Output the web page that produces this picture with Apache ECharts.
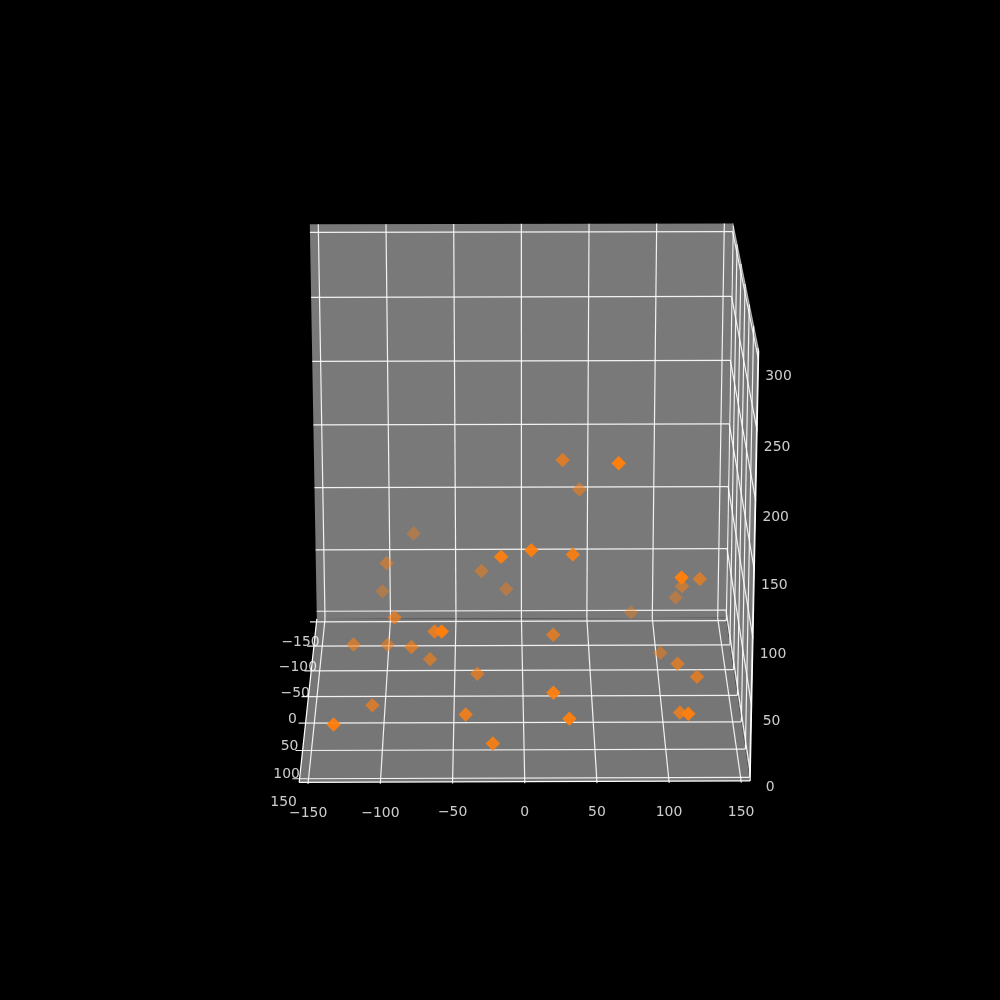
<!DOCTYPE html>
<html><head><meta charset="utf-8">
<style>html,body{margin:0;background:#000}#c{width:1000px;height:1000px}</style>
<script src="https://cdn.jsdelivr.net/npm/echarts@6/dist/echarts.min.js"></script></head>
<body><div id="c"></div><script>
const xValues=[28,65,41,-80,-99,-103,-30,-12,-16,5,34,108,126,115,112,80,-92,-63,-57,21,-122,-98,-80,-67,-33,100,110,123,-108,20,31,-41,-22,-132,110,113];
const yValues=[16,104,-29,-71,-30,-57,-27,-40,108,106,90,131,28,-5,-37,-51,35,73,142,57,24,7,42,28,49,-6,48,68,56,139,145,110,134,149,93,151];
const zValues=[181,209,143,94,86,54,81,62,142,146,137,135,95,77,56,39,69,73,100,64,44,37,49,34,31,25,38,36,10,53,36,25,13,34,19,42];
const xTicks=[-150,-100,-50,0,50,100,150];
const yTicks=[-150,-100,-50,0,50,100,150];
const zTicks=[0,50,100,150,200,250,300];

const L=156.25, ZL=-6.25, ZH=306.25;
const el=19.5*Math.PI/180, ce=Math.cos(el), se=Math.sin(el), ph=0.0077, cp=Math.cos(ph), sp=Math.sin(ph);
const d=19, s=4147, cx=523, cy=493.8;
// Perspective camera: data (x,y,z) -> position on the hidden 0..1000 axes, plus depth
function proj(x,y,z){const X=x/L,Y=y/L,Z=(z-150)/L;
 const X1=X*cp+Y*sp,Y1=-X*sp+Y*cp; const w=Y1*ce+Z*se,V=Z*ce-Y1*se,D=d-w;
 return [cx+s*X1/D,cy-s*V/D,w];}
const segs=[];
function seg(a,b,o){const A=proj(...a),B=proj(...b);segs.push([A[0],A[1],B[0],B[1],o||.9]);}
xTicks.forEach(t=>{seg([t,-L,ZL],[t,-L,ZH]);seg([t,-L,ZL],[t,L+3,ZL]);});
yTicks.forEach(t=>{seg([L,t,ZL],[L,t,ZH]);seg([L,t,ZL],[-L-5,t,ZL]);});
zTicks.forEach(t=>{seg([-L,-L,t],[L,-L,t]);seg([L,-L,t],[L,L,t]);});
seg([-L,L,ZL],[L,L,ZL],1);seg([-L,-L,ZL],[-L,L,ZL],1);seg([L,L,ZL],[L,L,ZH],1);seg([L,-L,ZH],[L,L,ZH],.6);
const panes=[
 [[-L,-L,ZL],[L,-L,ZL],[L,-L,ZH],[-L,-L,ZH]],
 [[-L,-L,ZL],[L,-L,ZL],[L,L,ZL],[-L,L,ZL]],
 [[L,-L,ZL],[L,L,ZL],[L,L,ZH],[L,-L,ZH]]].map(q=>q.map(p=>proj(...p).slice(0,2)));
const pts=xValues.map((x,i)=>proj(x,yValues[i],zValues[i]));
const ws=pts.map(p=>p[2]);const a=Math.min(...ws),b=Math.max(...ws);
const tickText=t=>String(t).replace('-','\u2212');
const labels=[];
xTicks.forEach(t=>{const p=proj(t,L,ZL);labels.push([p[0],p[1]+31,tickText(t)]);});
yTicks.forEach(t=>{const p=proj(-L,t,ZL);labels.push([p[0]-16,p[1]+21+(t+150)/100,tickText(t)]);});
zTicks.forEach(t=>{const p=proj(L,L,t);labels.push([p[0]+20,p[1]+15+t/150,tickText(t)]);});
const chart=echarts.init(document.getElementById('c'),null,{renderer:'canvas'});
chart.setOption({backgroundColor:'#000',animation:false,
 grid:{left:0,right:0,top:0,bottom:0},
 xAxis:{type:'value',min:0,max:1000,show:false},yAxis:{type:'value',min:0,max:1000,inverse:true,show:false},
 series:[
 {type:'custom',coordinateSystem:'cartesian2d',silent:true,z:1,data:[0,1,2],encode:{x:[],y:[]},renderItem:(p,api)=>{const q=panes[api.value(0)];const fills=['#797979','#767676','#797979'];return{type:'polygon',shape:{points:q.map(c=>api.coord(c))},style:{fill:fills[api.value(0)]}};}},
 {type:'custom',coordinateSystem:'cartesian2d',silent:true,z:2,data:segs,renderItem:(p,api)=>{const A=api.coord([api.value(0),api.value(1)]),B=api.coord([api.value(2),api.value(3)]);return{type:'line',shape:{x1:A[0],y1:A[1],x2:B[0],y2:B[1]},style:{stroke:'#fff',lineWidth:1.2,opacity:api.value(4)}};}},
 {type:'scatter',z:3,symbol:'diamond',symbolSize:14.5,silent:true,data:pts.map(p=>({value:[p[0],p[1]],w:p[2],itemStyle:{color:'#ff7f0e',opacity:.38+.62*(p[2]-a)/(b-a)}})).sort((m,n)=>m.w-n.w)},
 {type:'scatter',z:4,symbolSize:0,silent:true,data:labels.map(l=>({value:[l[0],l[1]],label:{show:true,position:'inside',formatter:l[2],color:'#fff',fontFamily:'DejaVu Sans',fontSize:13.9}}))}
 ]});
</script></body></html>
